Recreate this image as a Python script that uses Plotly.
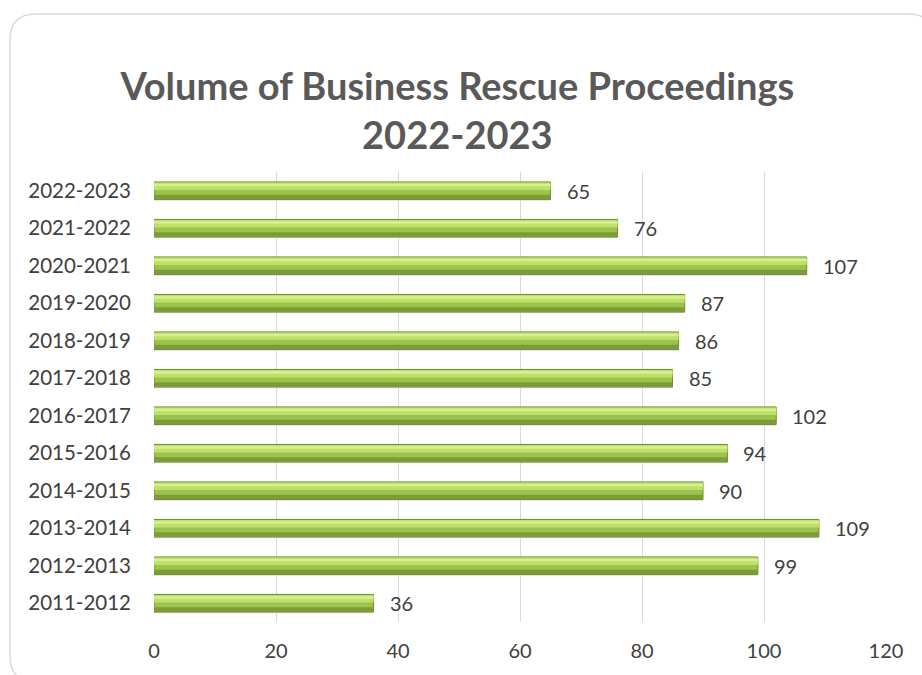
import plotly.graph_objects as go

periods = ["2011-2012", "2012-2013", "2013-2014", "2014-2015", "2015-2016", "2016-2017",
           "2017-2018", "2018-2019", "2019-2020", "2020-2021", "2021-2022", "2022-2023"]
volumes = [36, 99, 109, 90, 94, 102, 85, 86, 87, 107, 76, 65]
x_ticks = [0, 20, 40, 60, 80, 100, 120]

FONT = "Lato"
fig = go.Figure()

def layer(offset, width, color, line=None):
    fig.add_trace(go.Bar(
        y=periods, x=volumes, orientation="h", width=width, offset=offset,
        marker=dict(color=color, line=line or dict(width=0)),
        hoverinfo="skip", showlegend=False,
    ))

# soft shadow below each bar
layer(-0.265, 0.47, "#E4E4E4")
# base bar
layer(-0.235, 0.47, "#9CC34C", dict(color="#6E8C30", width=1))
# darker lower band
layer(-0.225, 0.12, "#7B9C38")
# bright upper band
layer(0.02, 0.20, "#BEDF68")
# top highlight
layer(0.12, 0.07, "#D6EF92")

# plot area in pixels: x 154..886, y 172..622
L, R, T, B = 154, 886, 172, 622
W, H = R - L, B - T
def px(x):
    return (x - L) / W
def py(y):
    return (B - y) / H
bx0, bx1, by0, by1, r = 10, 934, 14, 682, 26
path = (f"M {px(bx0 + r)} {py(by0)} L {px(bx1 - r)} {py(by0)} "
        f"Q {px(bx1)} {py(by0)} {px(bx1)} {py(by0 + r)} "
        f"L {px(bx1)} {py(by1 - r)} Q {px(bx1)} {py(by1)} {px(bx1 - r)} {py(by1)} "
        f"L {px(bx0 + r)} {py(by1)} Q {px(bx0)} {py(by1)} {px(bx0)} {py(by1 - r)} "
        f"L {px(bx0)} {py(by0 + r)} Q {px(bx0)} {py(by0)} {px(bx0 + r)} {py(by0)} Z")

annotations = [dict(x=v, y=p, xref="x", yref="y", text=str(v), showarrow=False,
                    xanchor="left", yanchor="middle", xshift=14,
                    font=dict(family=FONT, size=20, color="#404040"))
               for p, v in zip(periods, volumes)]

fig.update_layout(
    width=922, height=675,
    margin=dict(l=L, r=922 - R, t=T, b=675 - B),
    barmode="overlay",
    paper_bgcolor="white", plot_bgcolor="white",
    title=dict(text="<b>Volume of Business Rescue Proceedings<br>2022-2023</b>",
               x=0.496, xanchor="center", y=0.852, yanchor="middle",
               font=dict(family=FONT, size=38, color="#595959")),
    xaxis=dict(range=[0, 120], tickvals=x_ticks, showgrid=True, gridcolor="#D9D9D9",
               gridwidth=1, zeroline=False, showline=False, ticks="",
               tickfont=dict(family=FONT, size=20, color="#404040"), ticklabelstandoff=15),
    yaxis=dict(categoryorder="array", categoryarray=periods, showgrid=False,
               showline=False, ticks="", zeroline=False,
               tickfont=dict(family=FONT, size=20.5, color="#404040"), ticklabelstandoff=22,
               range=[-0.5, 11.5]),
    annotations=annotations,
    shapes=[dict(type="path", xref="paper", yref="paper", path=path,
                 line=dict(color="#D9D9D9", width=1.5), fillcolor="rgba(0,0,0,0)", layer="below")],
    font=dict(family=FONT),
)

fig.write_html("out.html")
